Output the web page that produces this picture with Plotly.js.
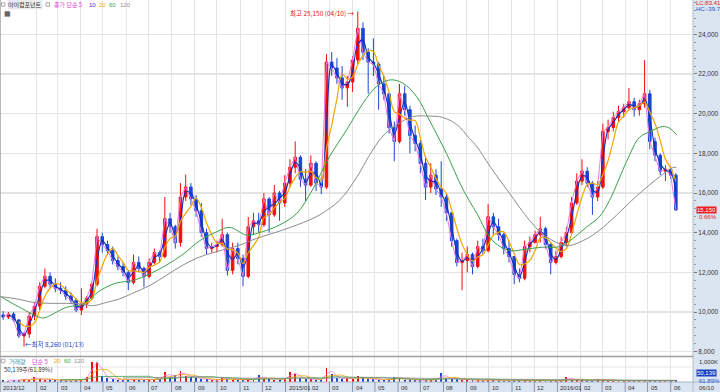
<!DOCTYPE html>
<html><head><meta charset="utf-8">
<script src="https://cdn.plot.ly/plotly-3.0.1.min.js"></script>
<style>html,body{margin:0;padding:0;background:#fff}#c{width:720px;height:392px}</style>
</head><body><div id="c"></div>
<script>
// ---- weekly data (mid-week dates) ----
const dates = ['2013-12-18','2013-12-25','2014-01-01','2014-01-08','2014-01-15','2014-01-22','2014-01-29','2014-02-05','2014-02-12','2014-02-19',
'2014-02-26','2014-03-05','2014-03-12','2014-03-19','2014-03-26','2014-04-02','2014-04-09','2014-04-16','2014-04-23','2014-04-30',
'2014-05-07','2014-05-14','2014-05-21','2014-05-28','2014-06-04','2014-06-11','2014-06-18','2014-06-25','2014-07-02','2014-07-09',
'2014-07-16','2014-07-23','2014-07-30','2014-08-06','2014-08-13','2014-08-20','2014-08-27','2014-09-03','2014-09-10','2014-09-17',
'2014-09-24','2014-10-01','2014-10-08','2014-10-15','2014-10-22','2014-10-29','2014-11-05','2014-11-12','2014-11-19','2014-11-26',
'2014-12-03','2014-12-10','2014-12-17','2014-12-24','2014-12-31','2015-01-07','2015-01-14','2015-01-21','2015-01-28','2015-02-04',
'2015-02-11','2015-02-18','2015-02-25','2015-03-04','2015-03-11','2015-03-18','2015-03-25','2015-04-01','2015-04-08','2015-04-15',
'2015-04-22','2015-04-29','2015-05-06','2015-05-13','2015-05-20','2015-05-27','2015-06-03','2015-06-10','2015-06-17','2015-06-24',
'2015-07-01','2015-07-08','2015-07-15','2015-07-22','2015-07-29','2015-08-05','2015-08-12','2015-08-19','2015-08-26','2015-09-02',
'2015-09-09','2015-09-16','2015-09-23','2015-09-30','2015-10-07','2015-10-14','2015-10-21','2015-10-28','2015-11-04','2015-11-11',
'2015-11-18','2015-11-25','2015-12-02','2015-12-09','2015-12-16','2015-12-23','2015-12-30','2016-01-06','2016-01-13','2016-01-20',
'2016-01-27','2016-02-03','2016-02-10','2016-02-17','2016-02-24','2016-03-02','2016-03-09','2016-03-16','2016-03-23','2016-03-30',
'2016-04-06','2016-04-13','2016-04-20','2016-04-27','2016-05-04','2016-05-11','2016-05-18','2016-05-25','2016-06-01','2016-06-08'];

const open = [9850,9750,9900,9600,8800,8900,9800,10300,11300,11800,
11400,11200,11100,10800,10600,10100,10400,10700,11400,13800,
13400,13100,12600,12300,12000,11500,12500,12200,11800,12500,
13000,12800,14700,14300,13500,15800,16300,15700,15100,14000,
13200,13300,13400,13900,12100,13200,12700,11800,14300,14600,
14400,15700,14900,16000,15500,16500,17300,17800,16700,16400,
17500,16500,16300,22600,22300,21800,21300,21600,22700,24300,
23100,22600,22500,21500,21000,19300,18600,21000,20200,18900,
18500,17500,16300,16900,16200,15800,15000,13600,12500,12600,
12900,12300,13300,13100,14800,14300,13900,13200,12800,11900,
11700,13300,13500,13900,14200,13400,12500,12800,13500,14000,
15500,16600,17100,16500,15800,16300,19100,19300,19800,20100,
20300,20600,20200,20500,21000,18600,17900,17100,17200,16900];

const high = [10050,10000,10000,9650,9000,10000,10500,11500,12200,12000,
11700,11500,11300,11000,10700,11200,10800,11500,14200,14000,
13600,13300,12800,12500,12100,12900,12800,12300,12700,13200,
13100,15800,15000,14400,16500,16930,16500,15900,15500,14200,
13500,13600,14700,14000,13500,13500,12900,14800,15000,15000,
16000,15800,16400,16100,16900,17700,18600,17900,17200,17900,
17600,16800,23000,23100,22800,22400,21900,22900,25150,24600,
23300,23800,22600,21900,21000,19600,21500,21400,20400,19400,
18700,17800,17500,17200,17600,16000,15000,13700,13000,13300,
13000,13600,13700,15450,15000,14700,14000,13600,12800,12200,
13600,13800,14100,14800,14300,13500,13100,13800,14300,15800,
17000,17700,17300,16600,16600,19500,19700,20100,20400,20500,
21300,20800,20700,22700,21200,18800,18000,17400,17350,17000];

const low = [9600,9650,9500,8700,8260,8700,9600,10100,11200,11200,
11000,10900,10600,10400,10000,9850,10200,10600,11300,13000,
12900,12400,12100,11800,11100,11400,12000,11250,11700,12400,
12500,12700,14000,13200,13300,15600,15400,14800,13800,12900,
13000,13000,13300,11850,11900,12400,11300,11700,13900,14000,
14300,14000,14800,14600,15300,16300,17000,16300,15600,16300,
16100,15950,16200,21900,21500,20700,20350,21100,22500,22700,
21000,21900,20200,20700,19000,17600,18500,19900,18000,18100,
17000,15650,16000,15900,15300,14600,13300,12300,11100,12000,
11900,12200,12900,13000,13900,13600,12900,12500,11400,11500,
11600,13000,13500,13500,13200,11900,12400,12700,13300,13900,
15400,16400,16300,14900,15600,16200,18700,19100,19600,19800,
20200,19850,19900,20300,18200,17600,16900,16600,16700,15100];

const close = [9750,9900,9600,8800,8900,9800,10300,11300,11800,11400,
11200,11100,10800,10600,10100,10400,10700,11400,13800,13400,
13100,12600,12300,12000,11500,12500,12200,11800,12500,13000,
12800,14700,14300,13500,15800,16300,15700,15100,14000,13200,
13300,13400,13900,12100,13200,12700,11800,14300,14600,14400,
15700,14900,16000,15500,16500,17300,17800,16700,16400,17500,
16500,16300,22600,22300,21800,21300,21600,22700,24300,23100,
22600,22500,21500,21000,19300,18600,21000,20200,18900,18500,
17500,16300,16900,16200,15800,15000,13600,12500,12600,12900,
12300,13300,13100,14800,14300,13900,13200,12800,11900,11700,
13300,13500,13900,14200,13400,12500,12800,13500,14000,15500,
16600,17100,16500,15800,16300,19100,19300,19800,20100,20300,
20600,20200,20500,21000,18600,17900,17100,17200,16900,15150];

// volume, thousands of shares
const volume = [80,70,80,100,140,110,230,140,120,100,
90,80,80,70,80,110,260,950,980,280,
180,130,110,100,120,140,110,100,110,140,
150,480,230,320,520,290,260,170,150,130,
90,90,170,160,110,100,110,150,120,320,
130,190,110,100,140,480,380,190,140,150,
120,90,660,380,190,140,210,150,270,190,
140,130,120,110,100,240,170,120,100,90,
90,100,110,100,430,170,140,150,120,90,
80,80,80,120,90,80,70,70,120,90,
80,70,70,80,70,70,60,70,240,110,
100,90,80,70,150,100,80,70,60,60,
60,60,60,110,80,60,50,50,50,100];

// long moving averages
const ma60Dates = ['2013-12-14','2014-01-09','2014-02-09','2014-02-18','2014-03-13','2014-04-04','2014-04-27','2014-05-19','2014-06-10','2014-07-03',
'2014-07-25','2014-08-16','2014-09-08','2014-10-01','2014-10-18','2014-11-10','2014-12-01','2014-12-24','2015-01-16','2015-02-06',
'2015-03-01','2015-03-24','2015-04-15','2015-05-03','2015-05-21','2015-06-07','2015-06-26','2015-07-13','2015-08-05','2015-08-27',
'2015-09-15','2015-10-06','2015-10-29','2015-11-21','2015-12-12','2016-01-04','2016-01-21','2016-02-09','2016-02-26','2016-03-11',
'2016-04-03','2016-04-20','2016-05-04','2016-05-21','2016-05-31','2016-06-09'];
const ma60Vals = [10800,10240,9700,9810,10240,10400,11080,11460,11590,11930,
12360,12900,13600,14050,14270,13880,14050,14390,14970,16150,
17830,19180,20520,21360,21700,21550,20860,19680,18000,16200,
14960,13600,13100,13180,13270,13300,13690,14280,14790,15630,
17600,18800,19090,19350,19260,18930];

const ma120Dates = ['2013-12-14','2014-01-06','2014-01-27','2014-02-19','2014-03-13','2014-04-04','2014-04-17','2014-05-06','2014-05-23','2014-06-10',
'2014-07-03','2014-07-25','2014-08-16','2014-09-08','2014-10-01','2014-11-01','2014-11-23','2014-12-28','2015-02-02','2015-02-19',
'2015-03-15','2015-04-07','2015-04-24','2015-05-11','2015-05-30','2015-06-21','2015-07-13','2015-07-31','2015-08-19','2015-09-05',
'2015-09-15','2015-10-06','2015-10-29','2015-11-21','2015-12-12','2016-01-04','2016-01-17','2016-02-09','2016-02-26','2016-03-20',
'2016-04-10','2016-05-03','2016-05-17','2016-06-03','2016-06-09'];
const ma120Vals = [10780,10660,10490,10440,10440,10400,10320,10490,10660,10950,
11340,11850,12360,12780,13050,13380,13710,14130,14640,14970,
15650,16820,17920,18840,19430,19850,19880,19810,19450,18750,
18330,17150,15970,14790,13940,13440,13350,13690,14110,14870,
15630,16390,16810,17270,17300];

const priceTicks = [8000,10000,12000,14000,16000,18000,20000,22000,24000];
const monthDates = ['2014-02-01','2014-03-01','2014-04-01','2014-05-01','2014-06-01','2014-07-01','2014-08-01','2014-09-01','2014-10-01','2014-11-01','2014-12-01',
'2015-01-01','2015-02-01','2015-03-01','2015-04-01','2015-05-01','2015-06-01','2015-07-01','2015-08-01','2015-09-01','2015-10-01','2015-11-01','2015-12-01',
'2016-01-01','2016-02-01','2016-03-01','2016-04-01','2016-05-01','2016-06-01'];
const monthLabels = ['02','03','04','05','06','07','08','09','10','11','12',
'2015/01','02','03','04','05','06','07','08','09','10','11','12',
'2016/01','02','03','04','05','06'];

// ---- helpers ----
function ma(arr, n){ return arr.map((v,i)=>{ if(i<n-1) return null; let s=0; for(let k=i-n+1;k<=i;k++) s+=arr[k]; return s/n; }); }
const W = 693, H = 382;
const px = x => x / W;
const py = y => (H - y) / H;

const RED = '#f20d0d', BLUE = '#1a46d2';
const volColors = close.map((c,i)=> c >= open[i] ? RED : BLUE);

const traces = [
 {type:'candlestick', x:dates, open:open, high:high, low:low, close:close, xaxis:'x', yaxis:'y',
  increasing:{line:{color:RED,width:1}, fillcolor:RED}, decreasing:{line:{color:BLUE,width:1}, fillcolor:BLUE},
  whiskerwidth:0, hoverinfo:'skip'},
 {type:'scatter', mode:'lines', x:dates, y:ma(close,1), line:{color:'#f07ae8', width:1}, hoverinfo:'skip'},
 {type:'scatter', mode:'lines', x:dates, y:ma(close,2), line:{color:'#1030b8', width:1.1, shape:'spline'}, hoverinfo:'skip'},
 {type:'scatter', mode:'lines', x:dates, y:ma(close,4), line:{color:'#f2a400', width:1.2, shape:'spline'}, hoverinfo:'skip'},
 {type:'scatter', mode:'lines', x:ma60Dates, y:ma60Vals, line:{color:'#3aa04a', width:1, shape:'spline'}, hoverinfo:'skip'},
 {type:'scatter', mode:'lines', x:ma120Dates, y:ma120Vals, line:{color:'#8c8c8c', width:1, shape:'spline'}, hoverinfo:'skip'},
 {type:'bar', x:dates, y:volume, xaxis:'x2', yaxis:'y2', marker:{color:volColors, line:{width:0}}, width:2.6*86400000, hoverinfo:'skip'},
 {type:'scatter', mode:'lines', x:dates, y:ma(volume,2), xaxis:'x2', yaxis:'y2', line:{color:'#f07ae8', width:0.8}, hoverinfo:'skip'},
 {type:'scatter', mode:'lines', x:dates, y:ma(volume,4), xaxis:'x2', yaxis:'y2', line:{color:'#f2a400', width:0.8}, hoverinfo:'skip'},
 {type:'scatter', mode:'lines', x:dates, y:ma(volume,12), xaxis:'x2', yaxis:'y2', line:{color:'#3aa04a', width:0.8}, hoverinfo:'skip'},
 {type:'scatter', mode:'lines', x:dates, y:ma(volume,24), xaxis:'x2', yaxis:'y2', line:{color:'#8c8c8c', width:0.8}, hoverinfo:'skip'}
];

const KR = 'Noto Sans CJK KR, sans-serif';
const LS = 'Liberation Sans, Arial, sans-serif';
const ann = [];
function T(text, x, y, color, opts){ ann.push(Object.assign({text:text, x:px(x), y:py(y), xref:'paper', yref:'paper', xanchor:'left', yanchor:'middle', showarrow:false, font:{family:KR, size:6, color:color}}, opts||{})); }
const lf = c => ({family:LS, size:6, color:c});

// top legend
T('아이컴포넌트', 7, 4.5, '#333', {bgcolor:'#ececec', borderpad:0});
T('종가 단순 5', 52, 4.5, '#e03cd8');
T('10', 87, 4.5, '', {font:lf('#2040d8')});
T('20', 97, 4.5, '', {font:lf('#f0a800')});
T('60', 107, 4.5, '', {font:lf('#30a850')});
T('120', 118, 4.5, '', {font:lf('#909090')});
T('▦', 2, 13.5, '', {font:{family:'DejaVu Sans',size:7,color:'#333'}});
// volume legend
T('거래량', 7, 361, '#3a9aa8');
T('단순 5', 30, 361, '#e03cd8');
T('20', 52, 361, '', {font:lf('#f0a800')});
T('60', 62, 361, '', {font:lf('#30a850')});
T('120', 72, 361, '', {font:lf('#909090')});
T('50,139주(61.89%)', 2, 369.5, '#333');
// right panel
T('LC:83.41', 693.5, 3, '', {font:lf('#e02020')});
T('HC:-39.78', 693.5, 9, '', {font:lf('#2050d0')});
ann.push({text:'15,150', x:px(696), y:15150, xref:'paper', yref:'y', xanchor:'left', yanchor:'middle', showarrow:false, bgcolor:'#ee1c1c', borderpad:0, font:lf('#fff')});
T('0.66%', 697, 216.5, '', {font:lf('#e02020')});
T('1,000K', 697, 362, '', {font:lf('#333')});
T('50,139', 696, 373, '', {bgcolor:'#1840c0', borderpad:0, font:lf('#fff')});
T('61.89%', 697, 380.5, '', {font:lf('#2050d0')});
T('06/10', 697, 387.5, '', {font:lf('#333')});
// extremes
ann.push({text:'최고 25,150 (04/10) →', x:'2015-04-08', y:25150, xref:'x', yref:'y', xanchor:'right', yanchor:'middle', xshift:-1, yshift:-1.5, showarrow:false, font:{family:KR,size:6.5,color:'#e01010'}});
ann.push({text:'←최저 8,260 (01/13)', x:'2014-01-15', y:8260, xref:'x', yref:'y', xanchor:'left', yanchor:'middle', xshift:-1, yshift:2.5, showarrow:false, font:{family:KR,size:6.5,color:'#2040d0'}});
// month labels in bottom band
T('2013/12', 1, 387.5, '', {font:lf('#333')});
monthDates.forEach((d,i)=>{ ann.push({text:monthLabels[i], x:d, y:py(387.5), xref:'x', yref:'paper', xanchor:'left', yanchor:'middle', xshift:1, showarrow:false, font:lf('#333')}); });

function sq(x, y){ return {type:'rect', xref:'paper', yref:'paper', x0:px(x), x1:px(x+3.5), y0:py(y+1.75), y1:py(y-1.75), fillcolor:'#ffffff', line:{color:'#999', width:0.8}}; }
const shapes = [
 {type:'rect', xref:'paper', yref:'paper', x0:1, x1:720/W, y0:py(392), y1:1, fillcolor:'#dbe5f1', line:{width:0}, layer:'below'},
 {type:'rect', xref:'paper', yref:'paper', x0:0, x1:720/W, y0:py(392), y1:py(382), fillcolor:'#dbe5f1', line:{width:0}, layer:'below'},
 {type:'line', xref:'paper', yref:'paper', x0:0, x1:720/W, y0:py(382), y1:py(382), line:{color:'#a8b4c4', width:1}},
 {type:'line', xref:'paper', yref:'paper', x0:1, x1:1, y0:py(392), y1:1, line:{color:'#b4bccb', width:1}},
 {type:'line', xref:'paper', yref:'paper', x0:0, x1:1, y0:py(356.5), y1:py(356.5), line:{color:'#a0a0a0', width:1.5}},
 {type:'line', xref:'paper', yref:'paper', x0:0, x1:1, y0:py(367), y1:py(367), line:{color:'#e6e6e6', width:1}, layer:'below'},
 {type:'line', xref:'paper', yref:'paper', x0:0, x1:0, y0:py(392), y1:1, line:{color:'#a0a0a0', width:1.5}},
 sq(1.5, 4.5), sq(46, 4.5), sq(1.5, 361)
];
monthDates.forEach(d=>{ shapes.push({type:'line', xref:'x', yref:'paper', x0:d, x1:d, y0:py(392), y1:py(382), line:{color:'#8898aa', width:1}}); });

const xStart = '2013-12-13 18:00', xEnd = '2016-07-01';
const gridC = '#e4e4e4';
const layout = {
 width:720, height:392, margin:{l:0, r:27, t:0, b:10, pad:0},
 paper_bgcolor:'#ffffff', plot_bgcolor:'#ffffff', showlegend:false, hovermode:false,
 xaxis:{type:'date', range:[xStart,xEnd], domain:[0,1], anchor:'y', tickmode:'array', tickvals:monthDates, showticklabels:false, ticks:'', showgrid:true, gridcolor:gridC, gridwidth:1, zeroline:false, showline:false, rangeslider:{visible:false}, fixedrange:true},
 yaxis:{domain:[py(356),1], range:[7785,25729], side:'right', tickmode:'array', tickvals:priceTicks, tickformat:',d', ticks:'outside', ticklen:3, tickcolor:'#777', tickfont:{family:LS, size:6.5, color:'#333'}, showgrid:true, gridcolor:gridC, gridwidth:1.2, zeroline:false, showline:false, fixedrange:true,
   minor:{tickmode:'linear', tick0:8000, dtick:400, ticks:'outside', ticklen:2, tickcolor:'#999', showgrid:false}},
 xaxis2:{type:'date', range:[xStart,xEnd], domain:[0,1], anchor:'y2', matches:'x', tickmode:'array', tickvals:monthDates, showticklabels:false, ticks:'', showgrid:true, gridcolor:gridC, zeroline:false, showline:false, fixedrange:true},
 yaxis2:{domain:[0,py(357)], range:[0,1208], side:'right', showticklabels:false, ticks:'', showgrid:false, zeroline:false, showline:false, fixedrange:true},
 annotations:ann, shapes:shapes, bargap:0
};
Plotly.newPlot('c', traces, layout, {staticPlot:true, displayModeBar:false});
</script></body></html>
